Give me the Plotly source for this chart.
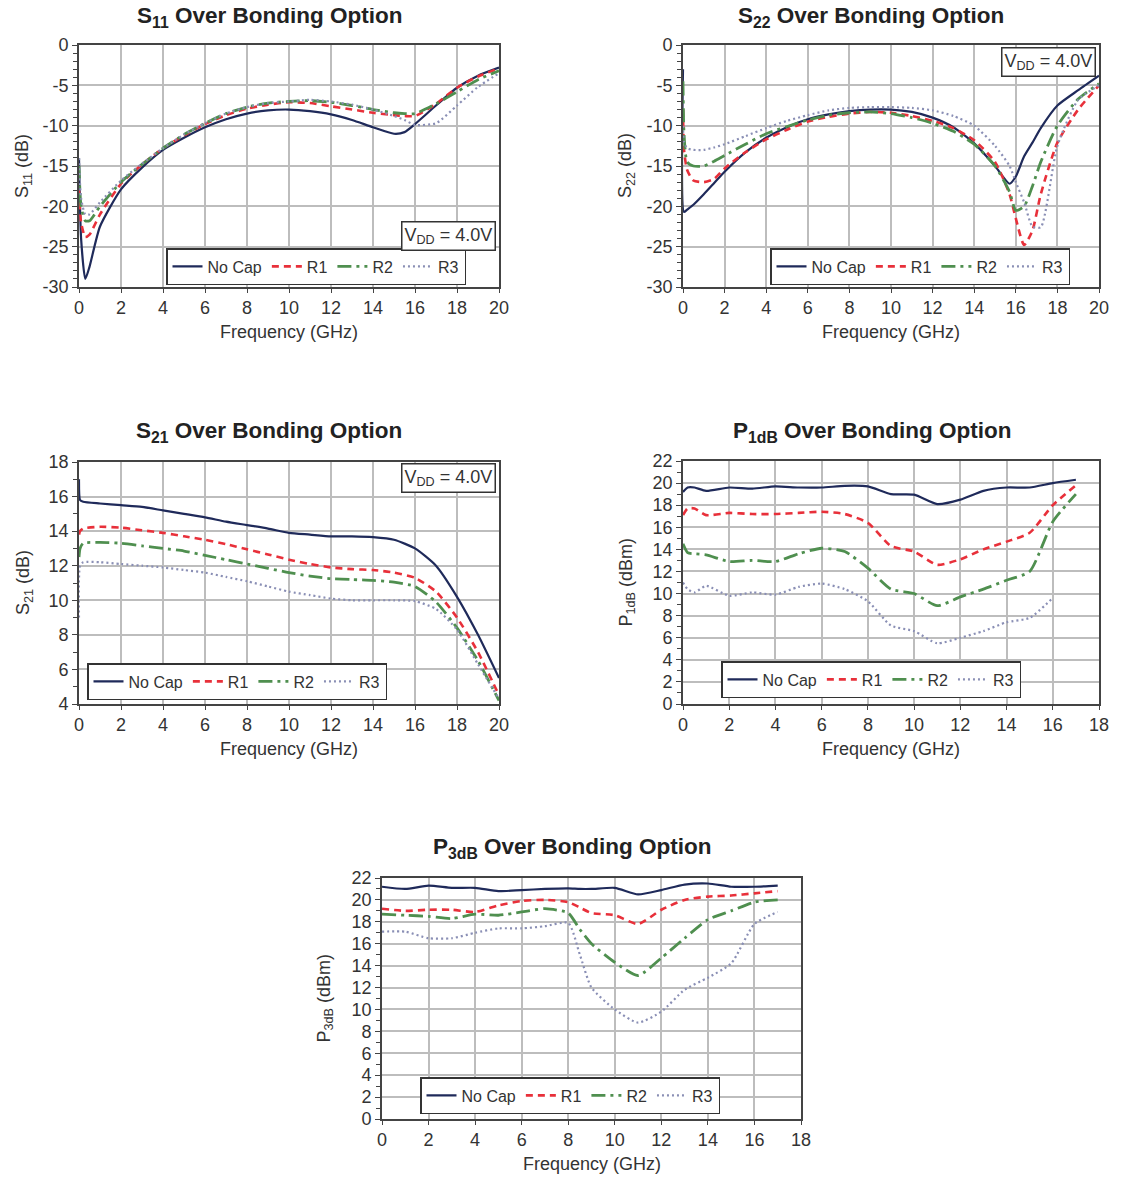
import plotly.graph_objects as go

# The page body adds an 8 px margin; the figure is sized to fit the window.
OFF = 8
W, H = 1128 - OFF, 1178 - OFF

# ---------------- DATA ----------------
series_names = ["No Cap", "R1", "R2", "R3"]

# S11
f_s11 = [0, 0.1, 0.3, 0.5, 1, 2, 3, 4, 5, 6, 7, 8, 9, 10, 11, 12, 13, 14, 15, 15.5, 16, 17, 18, 19, 20]
s11_nocap = [-14, -24, -29, -27.5, -22.5, -17.9, -15.2, -13, -11.5, -10.2, -9.2, -8.5, -8.1, -8.0, -8.2, -8.6, -9.3, -10.2, -11, -10.8, -9.8, -7.5, -5.3, -3.8, -2.8]
s11_r1 = [-18, -22, -23.8, -23.5, -21, -17.2, -14.8, -12.8, -11.2, -9.8, -8.7, -7.9, -7.4, -7.1, -7.2, -7.6, -8.0, -8.4, -8.7, -8.8, -8.8, -7.3, -5.3, -3.9, -2.9]
s11_r2 = [-15, -20, -21.8, -21.8, -20, -17, -14.8, -12.8, -11.1, -9.7, -8.5, -7.7, -7.2, -7.0, -6.9, -7.1, -7.5, -8.0, -8.4, -8.5, -8.5, -7.3, -5.8, -4.3, -3.2]
s11_r3 = [-14, -19, -21, -21, -19.5, -16.8, -14.7, -12.8, -11.1, -9.7, -8.5, -7.7, -7.2, -7.0, -6.8, -7.0, -7.4, -8.0, -8.8, -9.3, -9.9, -9.7, -7.5, -5.2, -3.5]

# S22
f_s22 = [0, 0.05, 0.2, 0.5, 1, 1.5, 2, 3, 4, 5, 6, 7, 8, 9, 10, 11, 12, 13, 14, 15, 15.7, 16, 16.4, 16.8, 17.2, 18, 19, 20]
s22_nocap = [-3, -20.7, -20.4, -19.8, -18.5, -17.1, -15.7, -13.3, -11.5, -10.2, -9.2, -8.6, -8.2, -8.0, -8.0, -8.3, -9.0, -10.2, -12.2, -15.0, -17.2, -16.3, -13.8, -12.1, -10.3, -7.5, -5.6, -3.8]
s22_r1 = [-8, -13, -15.5, -16.8, -17, -16.6, -15.3, -13.3, -11.7, -10.5, -9.5, -8.9, -8.5, -8.3, -8.4, -8.8, -9.4, -10.3, -11.8, -14.5, -18.5, -21.5, -24.8, -23.0, -18.5, -12.1, -8.0, -5.0]
s22_r2 = [-4.5, -11, -14.5, -15.0, -15.0, -14.4, -13.7, -12.3, -11.0, -10.1, -9.3, -8.7, -8.4, -8.3, -8.5, -9.0, -9.7, -10.7, -12.3, -15.0, -18.2, -20.5, -20.0, -17.5, -14.5, -10.0, -6.7, -4.8]
s22_r3 = [-10, -12, -12.8, -13.0, -13.0, -12.7, -12.3, -11.3, -10.3, -9.4, -8.7, -8.1, -7.8, -7.7, -7.7, -7.8, -8.1, -8.8, -10.0, -12.5, -15.0, -17.0, -19.5, -22.5, -22.6, -12.5, -6.8, -5.0]

# S21
f_s21 = [0, 0.05, 0.2, 1, 2, 3, 4, 5, 6, 7, 8, 9, 10, 11, 12, 13, 14, 15, 16, 17, 18, 19, 20]
s21_nocap = [17.0, 15.8, 15.7, 15.6, 15.5, 15.4, 15.2, 15.0, 14.8, 14.55, 14.35, 14.15, 13.9, 13.8, 13.7, 13.7, 13.65, 13.5, 13.0, 12.0, 10.2, 8.0, 5.5]
s21_r1 = [13.8, 14.0, 14.15, 14.25, 14.2, 14.05, 13.9, 13.7, 13.5, 13.25, 12.95, 12.65, 12.35, 12.1, 11.9, 11.8, 11.75, 11.6, 11.3, 10.5, 9.0, 7.0, 4.5]
s21_r2 = [12.5, 13.0, 13.3, 13.35, 13.3, 13.15, 13.0, 12.85, 12.6, 12.35, 12.1, 11.85, 11.6, 11.4, 11.25, 11.2, 11.15, 11.05, 10.8, 9.9, 8.4, 6.5, 4.2]
s21_r3 = [9.0, 12.0, 12.2, 12.2, 12.1, 12.0, 11.9, 11.75, 11.6, 11.35, 11.1, 10.8, 10.5, 10.3, 10.1, 10.0, 10.0, 10.0, 9.95, 9.5, 8.3, 6.3, 4.3]

# P1dB
f_p1 = [0, 0.2, 0.5, 1, 2, 3, 4, 5, 6, 7, 8, 9, 10, 11, 12, 13, 14, 15, 16, 17]
p1_nocap = [19.2, 19.6, 19.6, 19.3, 19.6, 19.5, 19.7, 19.6, 19.6, 19.75, 19.7, 19.0, 18.95, 18.1, 18.5, 19.3, 19.6, 19.6, 20.0, 20.3]
p1_r1 = [17.1, 17.7, 17.7, 17.1, 17.3, 17.2, 17.2, 17.3, 17.4, 17.2, 16.4, 14.3, 13.8, 12.6, 13.1, 14.0, 14.7, 15.5, 18.0, 19.8]
p1_r2 = [14.5, 13.7, 13.6, 13.5, 12.9, 13.0, 12.9, 13.6, 14.1, 13.8, 12.3, 10.4, 10.0, 8.9, 9.7, 10.4, 11.2, 12.0, 16.5, 19.0]
p1_r3 = [11.0, 10.4, 10.1, 10.7, 9.8, 10.1, 9.9, 10.6, 10.9, 10.4, 9.3, 7.1, 6.6, 5.5, 6.0, 6.6, 7.4, 7.8, 9.6, None]

# P3dB
f_p3 = [0, 1, 2, 3, 4, 5, 6, 7, 8, 8.5, 9, 10, 11, 12, 13, 14, 15, 16, 17]
p3_nocap = [21.2, 21.0, 21.3, 21.1, 21.1, 20.8, 20.9, 21.0, 21.05, 21.0, 21.0, 21.1, 20.5, 20.9, 21.4, 21.5, 21.2, 21.2, 21.3]
p3_r1 = [19.2, 19.0, 19.1, 19.1, 18.9, 19.5, 19.9, 20.0, 19.8, 19.3, 18.8, 18.6, 17.8, 19.1, 20.0, 20.3, 20.4, 20.6, 20.8]
p3_r2 = [18.7, 18.6, 18.5, 18.3, 18.7, 18.6, 18.9, 19.2, 18.8, 17.3, 16.0, 14.3, 13.1, 14.7, 16.5, 18.2, 19.0, 19.8, 20.0]
p3_r3 = [17.1, 17.1, 16.5, 16.5, 17.0, 17.4, 17.4, 17.6, 17.9, 15.0, 12.0, 10.0, 8.8, 9.8, 11.8, 12.9, 14.2, 17.8, 18.9]

# tick labels (ASCII hyphen minus as in the reference)
s_ticks = [-30, -25, -20, -15, -10, -5, 0]
s_ticklabels = ["-30", "-25", "-20", "-15", "-10", "-5", "0"]

# ---------------- STYLE ----------------
colors = ["#1f2a5a", "#e8303a", "#4f8f4f", "#8a8fb5"]
dashes = ["solid", "7px,5px", "14px,5px,3px,5px", "2px,3px"]
widths = [2.2, 2.6, 2.8, 2.2]
FONT = "Liberation Sans, Arial, sans-serif"
TXT = "#333333"

fig = go.Figure()

def px_x(p):
    return (p - OFF) / W

def px_y(p):
    return 1 - (p - OFF) / H

panels = [
    dict(f=f_s11, ys=[s11_nocap, s11_r1, s11_r2, s11_r3], box=(79, 499, 45, 287),
         xr=[0, 20], yr=[-30, 0], dt=5, mdt=1, tv=s_ticks, tt=s_ticklabels,
         title="<b>S<sub>11</sub> Over Bonding Option</b>", tx=269, ty=17,
         ytitle="S<sub>11</sub> (dB)", ytx=24,
         leg=(162, 497, 260, 284), vdd=(396, 496, 221, 247)),
    dict(f=f_s22, ys=[s22_nocap, s22_r1, s22_r2, s22_r3], box=(683, 1099, 45, 287),
         xr=[0, 20], yr=[-30, 0], dt=5, mdt=1, tv=s_ticks, tt=s_ticklabels,
         title="<b>S<sub>22</sub> Over Bonding Option</b>", tx=871, ty=17,
         ytitle="S<sub>22</sub> (dB)", ytx=627,
         leg=(766, 1096, 260, 284), vdd=(998, 1096, 47, 74)),
    dict(f=f_s21, ys=[s21_nocap, s21_r1, s21_r2, s21_r3], box=(79, 499, 462, 704),
         xr=[0, 20], yr=[4, 18], dt=2, mdt=1, tv=None, tt=None,
         title="<b>S<sub>21</sub> Over Bonding Option</b>", tx=269, ty=432,
         ytitle="S<sub>21</sub> (dB)", ytx=24,
         leg=(83, 417, 675, 699), vdd=(397, 496, 463, 492)),
    dict(f=f_p1, ys=[p1_nocap, p1_r1, p1_r2, p1_r3], box=(683, 1099, 461, 704),
         xr=[0, 18], yr=[0, 22], dt=2, mdt=1, tv=None, tt=None,
         title="<b>P<sub>1dB</sub> Over Bonding Option</b>", tx=872, ty=432,
         ytitle="P<sub>1dB</sub> (dBm)", ytx=627,
         leg=(717, 1048, 673, 697), vdd=None),
    dict(f=f_p3, ys=[p3_nocap, p3_r1, p3_r2, p3_r3], box=(382, 801, 878, 1119),
         xr=[0, 18], yr=[0, 22], dt=2, mdt=1, tv=None, tt=None,
         title="<b>P<sub>3dB</sub> Over Bonding Option</b>", tx=572, ty=848,
         ytitle="P<sub>3dB</sub> (dBm)", ytx=325,
         leg=(416, 750, 1088, 1113), vdd=None),
]

annotations = []
layout_extra = {}
for i, p in enumerate(panels):
    k = "" if i == 0 else str(i + 1)
    legname = "legend" if i == 0 else f"legend{i + 1}"
    for j in range(4):
        fig.add_trace(go.Scatter(
            x=p["f"], y=p["ys"][j], name=series_names[j], mode="lines",
            line=dict(color=colors[j], dash=dashes[j], width=widths[j],
                      shape="spline", smoothing=0.6),
            connectgaps=False,
            xaxis="x" + k, yaxis="y" + k, legend=legname,
        ))
    x0, x1, y0, y1 = p["box"]
    layout_extra["xaxis" + k] = dict(
        domain=[px_x(x0), px_x(x1)], anchor="y" + k, range=p["xr"], dtick=2,
        showgrid=True, gridcolor="#bdbdbd", gridwidth=1.6,
        showline=True, mirror=True, linecolor="#444444", linewidth=1.6,
        ticks="outside", ticklen=4, tickcolor="#444444", automargin=False,
        tickfont=dict(size=18, color=TXT, family=FONT), zeroline=False,
    )
    yax = dict(
        domain=[px_y(y1), px_y(y0)], anchor="x" + k, range=p["yr"], dtick=p["dt"],
        showgrid=True, gridcolor="#bdbdbd", gridwidth=1.6,
        showline=True, mirror=True, linecolor="#444444", linewidth=1.6,
        ticks="outside", ticklen=5, tickcolor="#444444", automargin=False,
        minor=dict(dtick=p["mdt"], ticks="outside", ticklen=4, tickcolor="#444444", showgrid=False),
        tickfont=dict(size=18, color=TXT, family=FONT), zeroline=False,
    )
    if p["tv"] is not None:
        yax.update(tickmode="array", tickvals=p["tv"], ticktext=p["tt"])
    layout_extra["yaxis" + k] = yax
    # chart title
    annotations.append(dict(text=p["title"], x=px_x(p["tx"]), y=px_y(p["ty"]), xref="paper", yref="paper",
                            showarrow=False, xanchor="center", yanchor="middle",
                            font=dict(size=22.5, color="#222222", family=FONT)))
    # x-axis title
    annotations.append(dict(text="Frequency (GHz)", x=px_x((x0 + x1) / 2), y=px_y(y1 + 45), xref="paper", yref="paper",
                            showarrow=False, xanchor="center", yanchor="middle",
                            font=dict(size=18, color=TXT, family=FONT)))
    # y-axis title
    annotations.append(dict(text=p["ytitle"], x=px_x(p["ytx"]), y=px_y((y0 + y1) / 2), xref="paper", yref="paper",
                            showarrow=False, xanchor="center", yanchor="middle", textangle=-90,
                            font=dict(size=18, color=TXT, family=FONT)))
    if p["vdd"]:
        vx0, vx1, vy0, vy1 = p["vdd"]
        annotations.append(dict(text="V<sub>DD</sub> = 4.0V", x=px_x(vx1), y=px_y(vy0), xref="paper", yref="paper",
                                showarrow=False, xanchor="right", yanchor="top",
                                bordercolor="#333333", borderwidth=1.5, borderpad=2, bgcolor="white",
                                font=dict(size=18, color=TXT, family=FONT)))
    lx0, lx1, ly0, ly1 = p["leg"]
    layout_extra[legname] = dict(
        orientation="h", x=px_x(lx0 + 4), y=px_y(ly1 + 1), xanchor="left", yanchor="bottom",
        xref="paper", yref="paper",
        bordercolor="#333333", borderwidth=1.5, bgcolor="white",
        font=dict(size=16, color=TXT, family=FONT),
        itemwidth=30, tracegroupgap=0, valign="middle",
    )

fig.update_layout(
    width=W, height=H, margin=dict(l=0, r=0, t=0, b=0, pad=0, autoexpand=False),
    paper_bgcolor="white", plot_bgcolor="white",
    font=dict(family=FONT, color=TXT),
    annotations=annotations, showlegend=True,
    **layout_extra,
)

fig.write_html("out.html")
